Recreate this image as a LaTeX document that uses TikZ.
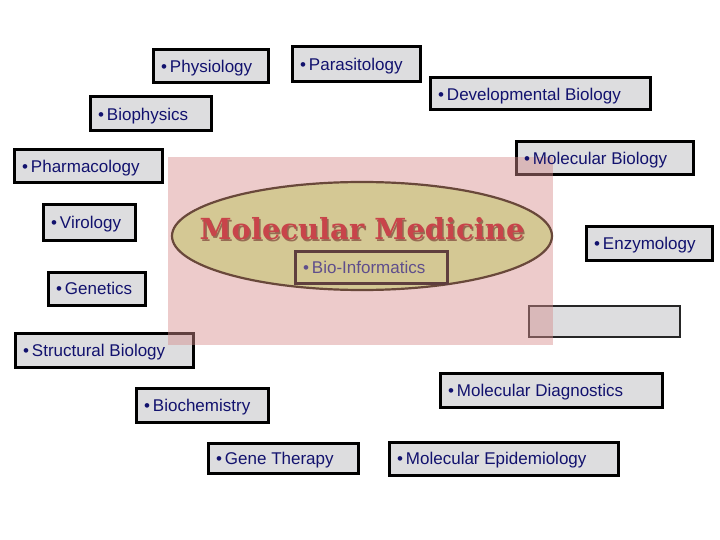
\documentclass[tikz,border=0pt]{standalone}
\usepackage{fontspec}
\setmainfont{Liberation Sans}
\newfontfamily\titlefont{DejaVu Serif}
\definecolor{navytxt}{RGB}{18,18,110}
\definecolor{boxgray}{RGB}{221,221,223}
\definecolor{pinkc}{RGB}{214,140,140}
\definecolor{tan}{RGB}{212,200,148}
\definecolor{brownline}{RGB}{105,72,58}
\definecolor{bioframe}{RGB}{95,62,62}
\definecolor{biotxt}{RGB}{95,78,140}
\definecolor{titlered}{RGB}{200,68,74}
\definecolor{titleshadow}{RGB}{110,45,40}
\pgfdeclarelayer{back}
\pgfdeclarelayer{mid}
\pgfsetlayers{back,mid,main}
\tikzset{
  frame/.style={draw=black, line width=3pt, fill=boxgray},
  thinframe/.style={draw=black!85, line width=2pt, fill=boxgray},
  subj/.style={text=navytxt, font=\fontsize{17}{20}\selectfont, inner xsep=0pt, inner ysep=0pt,
    text height=12.2pt, text depth=0pt, anchor=west},
}
\newcommand{\subjbox}[6]{%
  \begin{pgfonlayer}{back}
    \draw[frame] (#2,#3) rectangle (#4,#5);
  \end{pgfonlayer}
  \node[subj] (#1) at ({#2+8},{(#3+#5)/2}) {#6};
}
\begin{document}
\begin{tikzpicture}[x=1pt,y=-1pt]
\useasboundingbox (0,0) rectangle (720,540);
\subjbox{phys}{153}{50}{268}{83}{•\,Physiology}
\subjbox{para}{292}{47}{420}{82}{•\,Parasitology}
\subjbox{biop}{90}{97}{211}{131}{•\,Biophysics}
\subjbox{devb}{430}{78}{650}{110}{•\,Developmental Biology}
\subjbox{molb}{516}{142}{693}{175}{•\,Molecular Biology}
\subjbox{phar}{14}{150}{162}{183}{•\,Pharmacology}
\subjbox{viro}{43}{205}{135}{240}{•\,Virology}
\subjbox{enzy}{586}{227}{712}{260}{•\,Enzymology}
\subjbox{gene}{48}{272}{145}{305}{•\,Genetics}
\subjbox{stru}{15}{333}{193}{367}{•\,Structural Biology}
\subjbox{bioc}{136}{388}{268}{422}{•\,Biochemistry}
\subjbox{mdia}{440}{373}{662}{407}{•\,Molecular Diagnostics}
\subjbox{gthe}{208}{443}{358}{473}{•\,Gene Therapy}
\subjbox{mepi}{389}{442}{618}{475}{•\,Molecular Epidemiology}
\begin{pgfonlayer}{back}
  \draw[thinframe] (529,306) rectangle (680,337);
\end{pgfonlayer}
\begin{pgfonlayer}{mid}
  \fill[pinkc, opacity=0.45] (168,157) rectangle (553,345);
\end{pgfonlayer}
\draw[draw=brownline, line width=2.2pt, fill=tan] (362,236) ellipse [x radius=190, y radius=54];
\node[text=titleshadow, opacity=0.6, font=\titlefont\bfseries\fontsize{29}{32}\selectfont, inner sep=0pt, anchor=base] at (363.5,241.5) {Molecular Medicine};
\node[text=titlered, font=\titlefont\bfseries\fontsize{29}{32}\selectfont, inner sep=0pt, anchor=base] (title) at (362,240) {Molecular Medicine};
\draw[draw=bioframe, line width=3pt] (295,251) rectangle (447,283);
\node[subj, text=biotxt] (bioi) at (303,267) {•\,Bio-Informatics};
\end{tikzpicture}
\end{document}
